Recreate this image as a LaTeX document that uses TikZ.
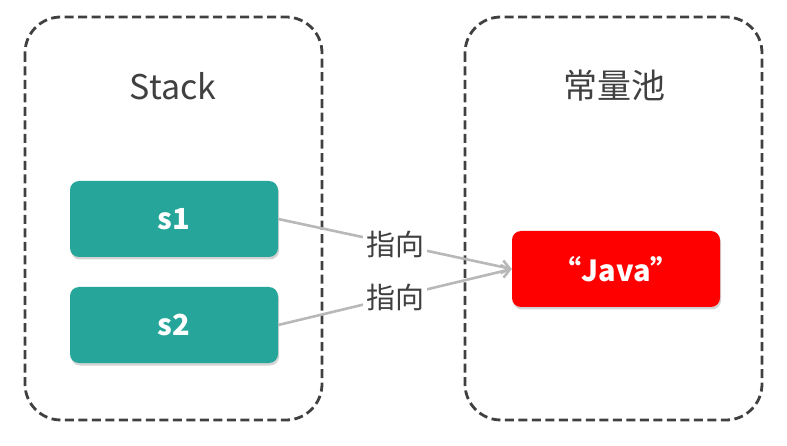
\documentclass[tikz,border=0pt]{standalone}
\usepackage{fontspec}
\setmainfont{Noto Sans CJK SC}
\usepackage{tikz}
\usetikzlibrary{shapes.geometric, arrows.meta, shadows}
\definecolor{teal1}{HTML}{26A69A}
\definecolor{javared}{HTML}{FF0000}
\definecolor{boxgray}{HTML}{404040}
\definecolor{linegray}{HTML}{B8B8B8}
\tikzstyle{area} = [draw=boxgray, line width=2.8pt, dash pattern=on 9pt off 4.5pt, rounded corners=36pt]
\tikzstyle{var} = [rectangle, rounded corners=9pt, minimum width=208pt, minimum height=76pt, text centered, fill=teal1, text=white, font=\fontsize{29}{32}\selectfont\bfseries, drop shadow={opacity=0.35, shadow xshift=1pt, shadow yshift=-2.5pt}]
\tikzstyle{title} = [text=boxgray, font=\fontsize{34}{38}\selectfont]
\tikzstyle{arrow} = [draw=linegray, line width=2.6pt, -{Straight Barb[length=8pt, width=13pt]}]
\tikzstyle{tag} = [fill=white, inner sep=3pt, text=boxgray, font=\fontsize{29}{32}\selectfont]

\begin{document}
\begin{tikzpicture}[x=1pt, y=-1pt]
    \useasboundingbox (0,0) rectangle (787,446);
    % two memory areas
    \draw [area] (25,17) rectangle (322,420);
    \draw [area] (465,17) rectangle (762,420);
    \node (Stack) [title] at (173,86) {Stack};
    \node (Pool) [title] at (614,86) {常量池};
    % variables and the string
    \node (S1) [var] at (174,219) {s1};
    \node (S2) [var] at (174,325) {s2};
    \node (Java) [var, fill=javared] at (616,269) {“Java”};
    \draw [arrow] (S1.east) -- node [tag] {指向} (Java.west);
    \draw [arrow] (S2.east) -- node [tag] {指向} (Java.west);
\end{tikzpicture}
\end{document}
